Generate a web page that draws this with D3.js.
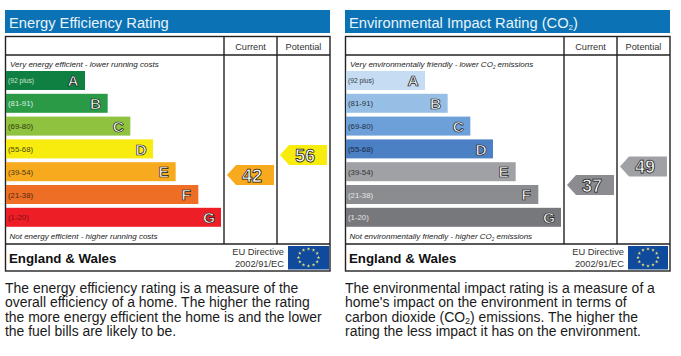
<!DOCTYPE html>
<html><head><meta charset="utf-8">
<style>html,body{margin:0;padding:0;background:#fff}svg{display:block;font-family:"Liberation Sans",Arial,sans-serif}</style>
<script src="https://cdn.jsdelivr.net/npm/d3@7/dist/d3.min.js"></script></head><body>
<svg id="c" width="681" height="356"></svg>
<script>
const bands=["A","B","C","D","E","F","G"];
const ranges=["(92 plus)","(81-91)","(69-80)","(55-68)","(39-54)","(21-38)","(1-20)"];
const barLengths=[1,2,3,4,5,6,7];
const energyColors=["#0f8041","#2a9a47","#8fc23f","#f8ec0f","#f8aa1f","#ed6e24","#ee1e26"];
const energyLabelColors=["#cfe5d5","#dcefe0","#2e3a12","#4a4a10","#4d3a10","#4d2a12","#7a1016"];
const envColors=["#c5dcf2","#97bfe6","#6d9fd8","#4b80c4","#a0a1a5","#8b8c90","#77787c"];
const envLabelColors=["#333a44","#2a3440","#22303f","#1c2a40","#333","#e4e4e4","#e4e4e4"];
const energyScores=[42,56];
const envScores=[37,49];
const scoreColumns=["Current","Potential"];
const energyBody=["The energy efficiency rating is a measure of the","overall efficiency of a home. The higher the rating","the more energy efficient the home is and the lower","the fuel bills are likely to be."];
const envBody=["The environmental impact rating is a measure of a","home's impact on the environment in terms of",["carbon dioxide (CO","2",") emissions. The higher the"],"rating the less impact it has on the environment."];

const svg=d3.select("#c");
const x=d3.scaleLinear().domain([1,7]).range([85,221]);
const y=d3.scaleBand().domain(bands).range([71,226.8]).paddingInner(0.167).paddingOuter(0);
const scoreY=d3.scaleLinear().domain([37,42,49,56]).range([185,175,166.5,155]);
const colX=d3.scaleBand().domain(scoreColumns).range([224,330]);
const LIGHT="#e9f4fa";

function sub(sel,parts,size){
  parts.forEach((p,i)=>{
    const t=sel.append("tspan").text(p);
    if(i%2==1) t.attr("font-size",size).attr("dy",2);
    else if(i>0) t.attr("dy",-2);
  });
}
function panel(dx,o){
  const g=svg.append("g").attr("transform",`translate(${dx},0)`);
  g.append("rect").attr("x",5).attr("y",10).attr("width",325).attr("height",23).attr("fill","#0b72b5");
  const tt=g.append("text").attr("x",9).attr("y",27.5).attr("font-size",14.7).attr("fill",LIGHT);
  sub(tt,o.title,8);
  g.append("rect").attr("x",5.5).attr("y",36.5).attr("width",324.5).attr("height",234.5).attr("fill","#fff").attr("stroke","#222").attr("stroke-width",1.4);
  [[5,330,55,55],[5,330,244,244],[224,224,36,244],[277,277,36,244]].forEach(l=>
    g.append("line").attr("x1",l[0]).attr("x2",l[1]).attr("y1",l[2]).attr("y2",l[3]).attr("stroke","#222").attr("stroke-width",1.4));
  scoreColumns.forEach(c=>g.append("text").attr("x",colX(c)+colX.bandwidth()/2).attr("y",50).attr("text-anchor","middle").attr("font-size",9.2).attr("fill","#333").text(c));
  const it=g.append("text").attr("x",o.topX).attr("y",67).attr("font-size",8).attr("font-style","italic").attr("fill","#222");
  sub(it,o.top,4.5);
  const ib=g.append("text").attr("x",9.5).attr("y",239).attr("font-size",8).attr("font-style","italic").attr("fill","#222");
  sub(ib,o.bottom,4.5);
  const rows=g.selectAll(".row").data(bands).join("g");
  rows.append("rect").attr("x",6).attr("y",d=>y(d)).attr("height",y.bandwidth()).attr("width",(d,i)=>x(barLengths[i])-6).attr("fill",(d,i)=>o.colors[i]);
  rows.append("text").attr("x",8).attr("y",d=>y(d)+y.bandwidth()/2+3).attr("font-size",d=>d==="A"?6.7:7.8).attr("fill",(d,i)=>o.labels[i]).text((d,i)=>ranges[i]);
  rows.append("text").attr("x",(d,i)=>x(barLengths[i])-12).attr("y",d=>y(d)+y.bandwidth()/2+5.7).attr("text-anchor","middle").attr("font-size",15.5).attr("font-weight","bold").attr("fill","#fff").attr("stroke","#111").attr("stroke-width",0.7).text(d=>d);
  o.scores.forEach((s,i)=>{
    const c=scoreColumns[i], right=colX(c)+colX.bandwidth()-3, left=right-47, cy=scoreY(s), h=10;
    const col=o.colors[bands.indexOf(o.scoreBand[i])];
    g.append("path").attr("d",`M${left} ${cy}L${left+9} ${cy-h}H${right}V${cy+h}H${left+9}Z`).attr("fill",col);
    g.append("text").attr("x",left+25).attr("y",cy+6.5).attr("text-anchor","middle").attr("font-size",18).attr("font-weight","bold").attr("fill","#fff").attr("stroke","#111").attr("stroke-width",0.75).text(s);
  });
  g.append("text").attr("x",9).attr("y",263).attr("font-size",13.3).attr("font-weight","bold").attr("fill","#111").text("England & Wales");
  g.append("text").attr("x",284).attr("y",255).attr("text-anchor","end").attr("font-size",9.3).attr("fill","#333").text("EU Directive");
  g.append("text").attr("x",284).attr("y",266.5).attr("text-anchor","end").attr("font-size",9.3).attr("fill","#333").text("2002/91/EC");
  const fx=288,fw=o.flagW,fc=fx+fw/2,fcy=257.5;
  g.append("rect").attr("x",fx).attr("y",246).attr("width",fw).attr("height",23.5).attr("fill","#0f4a9c");
  const star=d3.symbol().type(d3.symbolStar).size(4)();
  d3.range(12).forEach(k=>{
    const a=k*Math.PI/6;
    g.append("path").attr("d",star).attr("fill","#e8e27a").attr("transform",`translate(${fc+10*Math.cos(a)},${fcy+8.5*Math.sin(a)})`);
  });
  o.body.forEach((l,i)=>{
    const t=g.append("text").attr("x",5).attr("y",293+i*14.35).attr("font-size",13.95).attr("fill","#1a1a1a");
    if(Array.isArray(l)) sub(t,l,9); else t.text(l);
  });
}
panel(0,{title:["Energy Efficiency Rating"],topX:10,top:["Very energy efficient - lower running costs"],bottom:["Not energy efficient - higher running costs"],colors:energyColors,labels:energyLabelColors,scores:energyScores,scoreBand:["E","D"],flagW:41,body:energyBody});
panel(340,{title:["Environmental Impact Rating (CO","2",")"],topX:10,top:["Very environmentally friendly - lower CO","2"," emissions"],bottom:["Not environmentally friendly - higher CO","2"," emissions"],colors:envColors,labels:envLabelColors,scores:envScores,scoreBand:["F","E"],flagW:40,body:envBody});
</script></body></html>
